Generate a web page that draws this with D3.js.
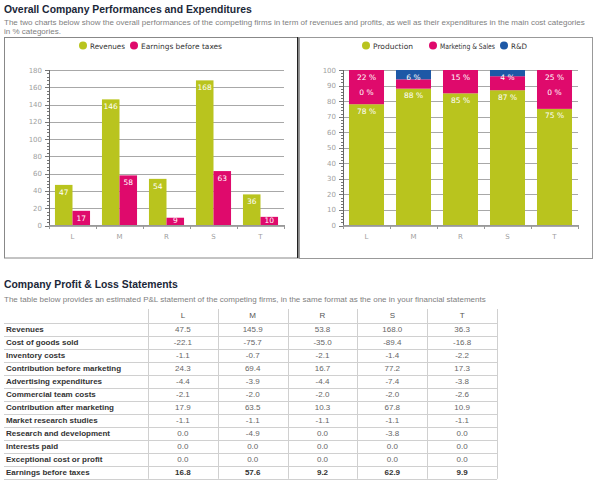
<!DOCTYPE html>
<html>
<head>
<meta charset="utf-8">
<script src="https://cdn.jsdelivr.net/npm/d3@7"></script>
<style>
  body { margin: 0; background: #fff; }
  svg { display: block; }
</style>
</head>
<body>
<div id="content"></div>
<script>
// chart data
const firms = ["L", "M", "R", "S", "T"];
const revenues = [47, 146, 54, 168, 36];
const earnings = [17, 58, 9, 63, 10];
const yTicksLeft = [0, 20, 40, 60, 80, 100, 120, 140, 160, 180];

const production = [78, 88, 85, 87, 75];
const marketing = [22, 6, 15, 9, 25];
const rnd = [0, 6, null, 4, 0];
const yTicksRight = [0, 10, 20, 30, 40, 50, 60, 70, 80, 90, 100];

// table data
const rowLabels = ["Revenues", "Cost of goods sold", "Inventory costs", "Contribution before marketing",
  "Advertising expenditures", "Commercial team costs", "Contribution after marketing",
  "Market research studies", "Research and development", "Interests paid",
  "Exceptional cost or profit", "Earnings before taxes"];
const colL = [47.5, -22.1, -1.1, 24.3, -4.4, -2.1, 17.9, -1.1, 0.0, 0.0, 0.0, 16.8];
const colM = [145.9, -75.7, -0.7, 69.4, -3.9, -2.0, 63.5, -1.1, -4.9, 0.0, 0.0, 57.6];
const colR = [53.8, -35.0, -2.1, 16.7, -4.4, -2.0, 10.3, -1.1, 0.0, 0.0, 0.0, 9.2];
const colS = [168.0, -89.4, -1.4, 77.2, -7.4, -2.0, 67.8, -1.1, -3.8, 0.0, 0.0, 62.9];
const colT = [36.3, -16.8, -2.2, 17.3, -3.8, -2.6, 10.9, -1.1, 0.0, 0.0, 0.0, 9.9];

const green = "#b9c41e", pink = "#df0a6c", blue = "#1d58a6";
const chartFont = "DejaVu Sans, Verdana, sans-serif";
const textFont = "Liberation Sans, Arial, sans-serif";

const svg = d3.select("#content").append("svg")
  .attr("width", 600).attr("height", 487)
  .style("font-family", textFont);

// headings
svg.append("text").attr("x", 4).attr("y", 12.5)
  .attr("font-size", 10.4).attr("font-weight", "bold").attr("fill", "#1b2738")
  .text("Overall Company Performances and Expenditures");
svg.append("text").attr("x", 4).attr("y", 25)
  .attr("font-size", 8).attr("fill", "#808080")
  .text("The two charts below show the overall performances of the competing firms in term of revenues and profits, as well as their expenditures in the main cost categories");
svg.append("text").attr("x", 4).attr("y", 34)
  .attr("font-size", 8).attr("fill", "#808080")
  .text("in % categories.");

// panels
svg.append("rect").attr("x", 4.5).attr("y", 37.5).attr("width", 294).attr("height", 220.5)
  .attr("fill", "none").attr("stroke", "#888");
svg.append("rect").attr("x", 299.5).attr("y", 37.5).attr("width", 293).attr("height", 221)
  .attr("fill", "none").attr("stroke", "#999");
svg.append("line").attr("x1", 297.5).attr("x2", 297.5).attr("y1", 37).attr("y2", 258)
  .attr("stroke", "#222");

function legend(g, items) {
  items.forEach(function (it) {
    g.append("circle").attr("cx", it.x).attr("cy", 45.5).attr("r", 4).attr("fill", it.color);
    g.append("text").attr("x", it.x + 7).attr("y", 48.5)
      .attr("font-family", chartFont).attr("font-size", 7.5).attr("fill", "#333")
      .attr("textLength", it.w).attr("lengthAdjust", "spacingAndGlyphs")
      .text(it.name);
  });
}

function yAxisDraw(y, ticks, x0, x1, minorStep) {
  const g = svg.append("g");
  g.selectAll("line.grid").data(ticks).enter().append("line")
    .attr("x1", x0).attr("x2", x1)
    .attr("y1", d => Math.round(y(d)) + 0.5).attr("y2", d => Math.round(y(d)) + 0.5)
    .attr("stroke", "#a8a8a8");
  const dom = y.domain();
  g.selectAll("line.minor").data(d3.range(dom[0], dom[1] + 0.01, minorStep)).enter().append("line")
    .attr("x1", x0 - 2).attr("x2", x0)
    .attr("y1", d => Math.round(y(d)) + 0.5).attr("y2", d => Math.round(y(d)) + 0.5)
    .attr("stroke", "#777");
  g.selectAll("line.major").data(ticks).enter().append("line")
    .attr("x1", x0 - 4).attr("x2", x0)
    .attr("y1", d => Math.round(y(d)) + 0.5).attr("y2", d => Math.round(y(d)) + 0.5)
    .attr("stroke", "#777");
  g.selectAll("text").data(ticks).enter().append("text")
    .attr("x", x0 - 7).attr("y", d => y(d) + 2.5).attr("text-anchor", "end")
    .attr("font-family", chartFont).attr("font-size", 7).attr("fill", "#a0a0a0")
    .text(d => d);
  g.append("line").attr("x1", x0 + 0.5).attr("x2", x0 + 0.5)
    .attr("y1", y(dom[1])).attr("y2", y(dom[0])).attr("stroke", "#666");
}

function xAxisDraw(x, y0) {
  const g = svg.append("g");
  const r = x.range();
  g.append("line").attr("x1", r[0]).attr("x2", r[1]).attr("y1", y0 + 0.5).attr("y2", y0 + 0.5)
    .attr("stroke", "#999");
  const edges = x.domain().map(d => x(d) - x.step() * x.paddingOuter()).concat([r[1]]);
  g.selectAll("line.t").data(edges).enter().append("line")
    .attr("x1", d => Math.round(d) + 0.5).attr("x2", d => Math.round(d) + 0.5)
    .attr("y1", y0).attr("y2", y0 + 4).attr("stroke", "#999");
  g.selectAll("text").data(x.domain()).enter().append("text")
    .attr("x", d => x(d) + x.bandwidth() / 2).attr("y", y0 + 14).attr("text-anchor", "middle")
    .attr("font-family", chartFont).attr("font-size", 7).attr("fill", "#a0a0a0")
    .text(d => d);
}

// ---- left chart: revenues / earnings
legend(svg.append("g"), [
  { x: 83, color: green, name: "Revenues", w: 35 },
  { x: 134, color: pink, name: "Earnings before taxes", w: 81 }
]);

const yL = d3.scaleLinear().domain([0, 180]).range([225.5, 70]);
const xL = d3.scaleBand().domain(firms).range([49, 284]);
const xSub = d3.scaleBand().domain(["rev", "ebt"]).range([0, xL.bandwidth()]).paddingOuter(0.34);

yAxisDraw(yL, yTicksLeft, 49, 284, 4);

const groups = svg.append("g").selectAll("g").data(firms).enter().append("g")
  .attr("transform", d => "translate(" + xL(d) + ",0)");
const pairs = firms.map((f, i) => [
  { key: "rev", v: revenues[i], c: green },
  { key: "ebt", v: earnings[i], c: pink }
]);
groups.each(function (f, i) {
  const g = d3.select(this);
  g.selectAll("rect").data(pairs[i]).enter().append("rect")
    .attr("x", d => xSub(d.key)).attr("width", xSub.bandwidth())
    .attr("y", d => yL(d.v)).attr("height", d => yL(0) - yL(d.v))
    .attr("fill", d => d.c);
  g.selectAll("text").data(pairs[i]).enter().append("text")
    .attr("x", d => xSub(d.key) + xSub.bandwidth() / 2)
    .attr("y", d => Math.min(yL(d.v) + 10, yL(0) - 2.5))
    .attr("text-anchor", "middle").attr("font-family", chartFont).attr("font-size", 7.5)
    .attr("fill", "#fff").text(d => d.v);
});
xAxisDraw(xL, 225);

// ---- right chart: cost split
legend(svg.append("g"), [
  { x: 366, color: green, name: "Production", w: 40 },
  { x: 433, color: pink, name: "Marketing & Sales", w: 55 },
  { x: 504, color: blue, name: "R&D", w: 16 }
]);

const yR = d3.scaleLinear().domain([0, 100]).range([225.5, 70]);
const xR = d3.scaleBand().domain(firms).range([343, 578]).paddingInner(0.255).paddingOuter(0.1275);
yAxisDraw(yR, yTicksRight, 343, 578, 2);

const stackData = firms.map((f, i) => ({ firm: f, production: production[i], marketing: marketing[i], rnd: rnd[i] }));
const stack = d3.stack().keys(["production", "marketing", "rnd"]).value((d, k) => d[k] || 0);
const series = stack(stackData);
const colors = { production: green, marketing: pink, rnd: blue };

svg.append("g").selectAll("g").data(series).enter().append("g")
  .attr("fill", s => colors[s.key])
  .selectAll("rect").data(s => s).enter().append("rect")
  .attr("x", d => xR(d.data.firm)).attr("width", xR.bandwidth())
  .attr("y", d => yR(d[1])).attr("height", d => yR(d[0]) - yR(d[1]));

// data labels at top of each segment; overlapping labels are hidden, zero ones move below
const labels = svg.append("g");
firms.forEach(function (f, i) {
  const cand = [];
  series.forEach(function (s) {
    const v = stackData[i][s.key];
    if (v === null) return;
    cand.push({ v: v, y: yR(s[i][1]) + 9.5 });
  });
  cand.sort((a, b) => (a.v === 0) - (b.v === 0) || a.y - b.y);
  const kept = [];
  cand.forEach(function (c) {
    let clash = kept.find(k => Math.abs(k.y - c.y) < 12);
    if (clash) {
      if (c.v !== 0) return;
      c.y = clash.y + 15;
    }
    kept.push(c);
  });
  labels.selectAll(null).data(kept).enter().append("text")
    .attr("x", xR(f) + xR.bandwidth() / 2).attr("y", d => d.y)
    .attr("text-anchor", "middle").attr("font-family", chartFont).attr("font-size", 7.5)
    .attr("fill", "#fff").text(d => d.v + " %");
});
xAxisDraw(xR, 225);

// ---- P&L table
svg.append("text").attr("x", 4).attr("y", 287.5)
  .attr("font-size", 10.4).attr("font-weight", "bold").attr("fill", "#1b2738")
  .text("Company Profit & Loss Statements");
svg.append("text").attr("x", 4).attr("y", 301.5)
  .attr("font-size", 8).attr("fill", "#808080")
  .text("The table below provides an estimated P&L statement of the competing firms, in the same format as the one in your financial statements");

const cols = [colL, colM, colR, colS, colT];
const tx = d3.scaleBand().domain(firms).range([148, 497]);
const ty = d3.scaleBand().domain(d3.range(rowLabels.length)).range([322.8, 322.8 + 13 * rowLabels.length]);
const table = svg.append("g");

table.selectAll("line.h").data(d3.range(rowLabels.length + 1)).enter().append("line")
  .attr("x1", 4).attr("x2", 497)
  .attr("y1", d => Math.round(322.8 + 13 * d) + 0.5).attr("y2", d => Math.round(322.8 + 13 * d) + 0.5)
  .attr("stroke", "#d0d0d0");
table.selectAll("line.v").data(firms.map(f => tx(f)).concat([497])).enter().append("line")
  .attr("x1", d => Math.round(d) + 0.5).attr("x2", d => Math.round(d) + 0.5)
  .attr("y1", 309).attr("y2", ty.range()[1]).attr("stroke", "#d0d0d0");

table.selectAll("text.head").data(firms).enter().append("text")
  .attr("x", d => tx(d) + tx.bandwidth() / 2).attr("y", 318).attr("text-anchor", "middle")
  .attr("font-size", 8).attr("fill", "#555").text(d => d);

table.selectAll("text.lab").data(rowLabels).enter().append("text")
  .attr("x", 6).attr("y", (d, i) => ty(i) + 9.5)
  .attr("font-size", 8).attr("font-weight", "bold").attr("fill", "#333")
  .text(d => d);

const last = rowLabels.length - 1;
cols.forEach(function (col, j) {
  table.selectAll(null).data(col).enter().append("text")
    .attr("x", tx(firms[j]) + tx.bandwidth() / 2).attr("y", (d, i) => ty(i) + 9.5)
    .attr("text-anchor", "middle").attr("font-size", 8)
    .attr("font-weight", (d, i) => i === last ? "bold" : "normal")
    .attr("fill", (d, i) => i === last ? "#333" : "#666")
    .text(d => d3.format(".1f")(d).replace("−", "-"));
});
</script>
</body>
</html>
